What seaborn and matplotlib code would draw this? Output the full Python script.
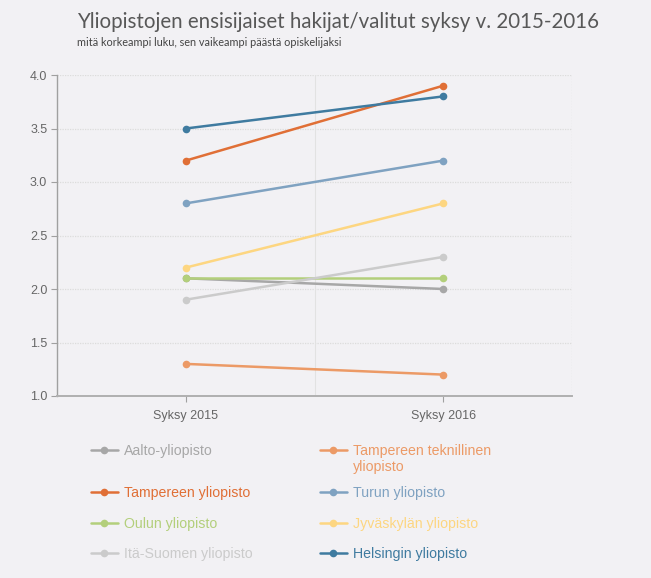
import matplotlib
matplotlib.use("Agg")
import matplotlib.pyplot as plt
import seaborn as sns
import pandas as pd

# ---- data ----
periods = ["Syksy 2015", "Syksy 2016"]
universities = [
    "Aalto-yliopisto", "Tampereen teknillinen yliopisto", "Tampereen yliopisto",
    "Turun yliopisto", "Oulun yliopisto", "Jyväskylän yliopisto",
    "Itä-Suomen yliopisto", "Helsingin yliopisto",
]
values_2015 = [2.1, 1.3, 3.2, 2.8, 2.1, 2.2, 1.9, 3.5]
values_2016 = [2.0, 1.2, 3.9, 3.2, 2.1, 2.8, 2.3, 3.8]
colors = ["#a7a7a7", "#ec9a66", "#e06f36", "#7fa2c1", "#b3cf7b", "#fdd681",
          "#cbcbcb", "#3f7ba0"]
y_ticks = [1.0, 1.5, 2.0, 2.5, 3.0, 3.5, 4.0]

title = "Yliopistojen ensisijaiset hakijat/valitut syksy v. 2015-2016"
subtitle = "mitä korkeampi luku, sen vaikeampi päästä opiskelijaksi"

rows = []
for u, a, b in zip(universities, values_2015, values_2016):
    rows.append({"period": periods[0], "uni": u, "value": a})
    rows.append({"period": periods[1], "uni": u, "value": b})
df = pd.DataFrame(rows)

bg = "#f2f1f4"
sns.set_theme(style="white")
plt.rcParams["font.family"] = ["Liberation Sans", "DejaVu Sans"]

W, H = 651, 578
fig = plt.figure(figsize=(W / 100, H / 100), dpi=100, facecolor=bg)
ax = fig.add_axes([57 / W, 1 - 396 / H, (572 - 57) / W, (396 - 75) / H])
ax.set_facecolor(bg)

palette = dict(zip(universities, colors))
sns.lineplot(data=df, x="period", y="value", hue="uni", hue_order=universities,
             palette=palette, marker="o", markersize=5.5, markeredgewidth=0,
             linewidth=1.8, ax=ax, legend=True)

handles, labels = ax.get_legend_handles_labels()
ax.get_legend().remove()

ax.set_xlim(-0.5, 1.5)
ax.set_ylim(1.0, 4.0)
ax.set_yticks(y_ticks)
ax.set_yticklabels([f"{v:.1f}" for v in y_ticks])
ax.set_xlabel("")
ax.set_ylabel("")

# grid
for v in y_ticks[1:]:
    ax.axhline(v, color="#dcdcdc", lw=0.9, ls=(0, (1, 1)), zorder=0)
ax.axvline(0.5, color="#e2e2e2", lw=0.8, zorder=0)
ax.axvline(1.5, color="#e2e2e2", lw=1.0, ls=(0, (1, 1)), zorder=0)

for s in ["top", "right"]:
    ax.spines[s].set_visible(False)
ax.spines["left"].set_color("#a0a0a0")
ax.spines["bottom"].set_color("#b0b0b0")
ax.spines["left"].set_linewidth(1.0)
ax.spines["bottom"].set_linewidth(1.4)
ax.tick_params(axis="both", which="both", length=4, width=0.8, color="#a0a0a0",
               labelcolor="#666666", labelsize=9, left=True, bottom=True)
ax.tick_params(axis="y", pad=3)
ax.tick_params(axis="x", pad=6)

# titles
fig.text(77 / W, 1 - 28 / H, title, fontsize=14.8, color="#585858",
         family=["Lato", "DejaVu Sans"], va="baseline", ha="left")
fig.text(77 / W, 1 - 46 / H, subtitle, fontsize=7.8, color="#444444",
         family=["Lato", "DejaVu Sans"], va="baseline", ha="left")

# legend, laid out like the original (two columns)
lab_map = dict(zip(labels, handles))
positions = [
    (91, 451), (320, 451),
    (91, 493), (320, 493),
    (91, 524), (320, 524),
    (91, 554), (320, 554),
]
fs = 10.2
for (px, py), u, c in zip(positions, universities, colors):
    lbl = "Tampereen teknillinen" if u == "Tampereen teknillinen yliopisto" else u
    lg = fig.legend(handles=[lab_map[u]], labels=[lbl], loc="center left",
                    bbox_to_anchor=(px / W, 1 - py / H), frameon=False,
                    borderpad=0, borderaxespad=0, handlelength=1.9,
                    handletextpad=0.42, fontsize=fs, labelcolor=c)
    if u == "Tampereen teknillinen yliopisto":
        fig.text((px + 33) / W, 1 - 467 / H, "yliopisto", fontsize=fs, color=c,
                 va="center", ha="left")

fig.savefig("out.png", dpi=100, facecolor=bg)
